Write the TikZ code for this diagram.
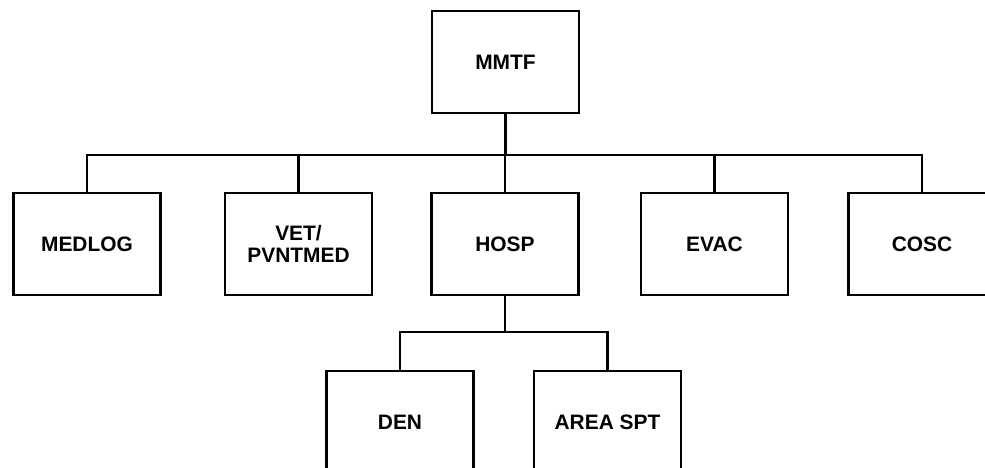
\documentclass[tikz,border=0pt]{standalone}
\usepackage{fontspec}
\setmainfont{Liberation Sans}
\begin{document}
\begin{tikzpicture}[
		font=\fontsize{11.9}{12.5}\selectfont\bfseries,
		unit/.style={draw, line width=1.4pt, minimum width=2.94cm,
			minimum height=2.04cm, align=center, inner sep=0pt},
		conn/.style={line width=1.4pt},
	]
		\clip (0,0) rectangle (19.7,-9.36);
		% Kopf
		\node[unit] (mmtf) at (10.11,-1.24) {MMTF};

		% erste Ebene
		\node[unit] (medlog) at (1.74,-4.88) {MEDLOG};
		\node[unit] (vet) at (5.97,-4.88) {VET/\\PVNTMED};
		\node[unit] (hosp) at (10.10,-4.88) {HOSP};
		\node[unit] (evac) at (14.29,-4.88) {EVAC};
		\node[unit] (cosc) at (18.44,-4.88) {COSC};

		% zweite Ebene unter HOSP
		\node[unit] (den) at (8.00,-8.44) {DEN};
		\node[unit] (area) at (12.15,-8.44) {AREA SPT};

		% Sammelleitungen
		\coordinate (bus) at (0,-3.10);
		\coordinate (hbus) at (0,-6.64);

		% Verbindungen
		\draw[conn] (mmtf.south) -- (mmtf |- bus);
		\draw[conn] (medlog.north) |- (cosc |- bus) -- (cosc.north);
		\draw[conn] (vet.north) -- (vet |- bus);
		\draw[conn] (hosp.north) -- (hosp |- bus);
		\draw[conn] (evac.north) -- (evac |- bus);
		\draw[conn] (hosp.south) -- (hosp |- hbus);
		\draw[conn] (den.north) |- (area |- hbus) -- (area.north);
	\end{tikzpicture}
\end{document}
